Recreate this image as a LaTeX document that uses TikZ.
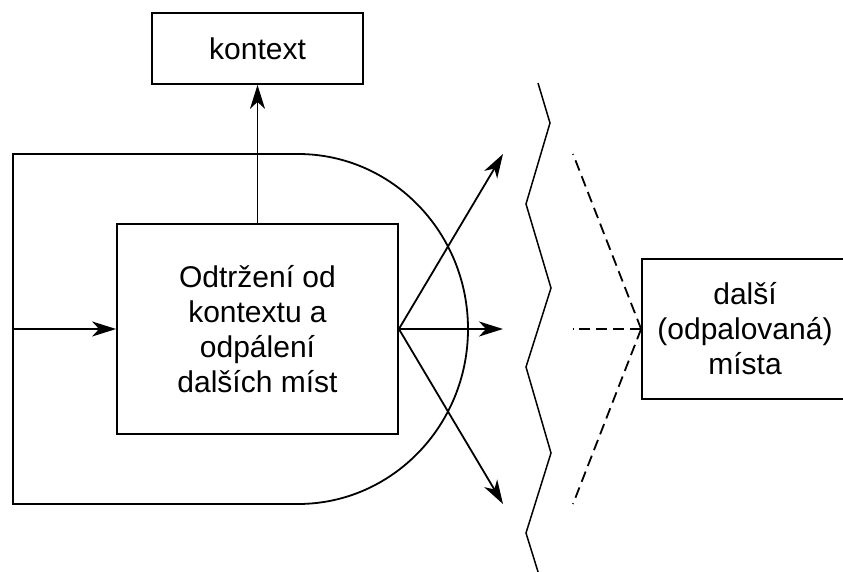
\documentclass[tikz,border=0pt]{standalone}
\usepackage{fontspec}
\setmainfont{Liberation Sans}
\usetikzlibrary{arrows.meta}
\begin{document}
\begin{tikzpicture}[x=1pt,y=1pt,
  line width=1.8pt,
  every node/.style={font=\fontsize{30}{35}\selectfont},
  blok/.style={draw, align=center, inner sep=0pt},
  sipka/.style={-{Stealth[length=24pt,width=15pt,inset=7pt]}},
  carkovane/.style={dash pattern=on 11pt off 6pt}]
\useasboundingbox (0,0) rectangle (843,-572);
\clip (0,0) rectangle (843,-572);

% boxes
\node[blok, minimum width=211pt, minimum height=71pt] (ctx) at (257.5,-48.5) {kontext};
\node[blok, minimum width=281pt, minimum height=210pt] (main) at (257.5,-329)
  {Odtržení od\\kontextu a\\odpálení\\dalších míst};
\node[blok, minimum width=206pt, minimum height=140pt] (next) at (745,-329)
  {další\\(odpalovaná)\\místa};

% surrounding D-shaped frame
\draw (298,-504) arc[start angle=-90, end angle=90, x radius=170, y radius=175]
      -- (13,-154) -- (13,-504) -- cycle;
\coordinate (in) at (13,-329);

% outgoing arrow targets and dashed sources
\coordinate (t1) at (503,-154);
\coordinate (t2) at (503,-329);
\coordinate (t3) at (503,-504);
\coordinate (d1) at (573,-154);
\coordinate (d2) at (573,-329);
\coordinate (d3) at (573,-504);

% connectors
\draw[sipka] (in) -- (main.west);
\draw[sipka] (main.north) -- (ctx.south);
\draw[sipka] (main.east) -- (t1);
\draw[sipka] (main.east) -- (t2);
\draw[sipka] (main.east) -- (t3);

\draw[carkovane] (next.west) -- (d1);
\draw[carkovane] (next.west) -- (d2);
\draw[carkovane] (next.west) -- (d3);

% break line
\draw[line width=1.5pt] (538,-83) -- (550,-123) -- (526,-204) -- (551,-288)
  -- (526,-367) -- (551,-453) -- (526,-533) -- (539,-575);
\end{tikzpicture}
\end{document}
